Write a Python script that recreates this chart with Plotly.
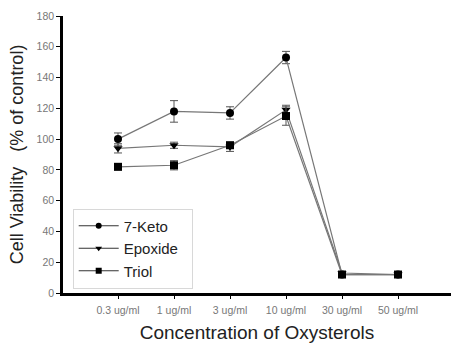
import plotly.graph_objects as go

categories = ["0.3 ug/ml", "1 ug/ml", "3 ug/ml", "10 ug/ml", "30 ug/ml", "50 ug/ml"]
keto = [100, 118, 117, 153, 12, 12]
keto_err = [4, 7, 4, 4, 1, 1]
epoxide = [94, 96, 95, 119, 13, 12]
epoxide_err = [3, 2, 3, 3, 1, 1]
triol = [82, 83, 96, 115, 12, 12]
triol_err = [2, 3, 2, 6, 1, 1]
y_ticks = [0, 20, 40, 60, 80, 100, 120, 140, 160, 180]

series = [
    ("7-Keto", keto, keto_err, "circle"),
    ("Epoxide", epoxide, epoxide_err, "triangle-down"),
    ("Triol", triol, triol_err, "square"),
]

fig = go.Figure()
xs = list(range(len(categories)))
for name, vals, err, sym in series:
    fig.add_trace(go.Scatter(
        x=xs, y=vals, name=name, mode="lines+markers", showlegend=False,
        line=dict(color="#777777", width=1.2),
        marker=dict(symbol=sym, size=8, color="black"),
        error_y=dict(type="data", array=err, visible=True, color="#555555",
                     thickness=1, width=4),
    ))
# legend entries (smaller symbols, as in the original key)
for name, vals, err, sym in series:
    fig.add_trace(go.Scatter(
        x=[None], y=[None], name=name + "  ", mode="lines+markers",
        line=dict(color="#333333", width=1.2),
        marker=dict(symbol=sym, size=6, color="black"),
    ))

fig.update_layout(
    width=451, height=345,
    margin=dict(l=63, r=0, t=16, b=52),
    paper_bgcolor="white", plot_bgcolor="white",
    font=dict(family="Liberation Sans, Arial, sans-serif", color="#222222"),
    showlegend=True,
    legend=dict(
        x=0.025, y=0.305, xanchor="left", yanchor="top",
        bgcolor="white", bordercolor="#d8d8d8", borderwidth=1,
        font=dict(size=15, color="#222222"),
        tracegroupgap=0, itemwidth=40,
    ),
    xaxis=dict(
        tickmode="array", tickvals=xs, ticktext=categories,
        range=[-0.982, 5.946],
        showline=True, linecolor="black", linewidth=2.5,
        ticks="outside", ticklen=3, tickcolor="black", tickwidth=1,
        tickfont=dict(size=10.5, color="#777777"),
        ticklabelstandoff=3,
        showgrid=False, zeroline=False,
        title=dict(text="Concentration of Oxysterols", font=dict(size=19, color="#222222"), standoff=11),
    ),
    yaxis=dict(
        range=[0, 180], tickvals=y_ticks,
        showline=True, linecolor="black", linewidth=2.5,
        ticks="outside", ticklen=4, tickcolor="black", tickwidth=1,
        tickfont=dict(size=10.5, color="#777777"),
        ticklabelstandoff=0,
        showgrid=False, zeroline=False,
        title=dict(text="Cell Viability   (% of control)", font=dict(size=18, color="#222222"), standoff=9),
    ),
)

fig.write_html("out.html")
